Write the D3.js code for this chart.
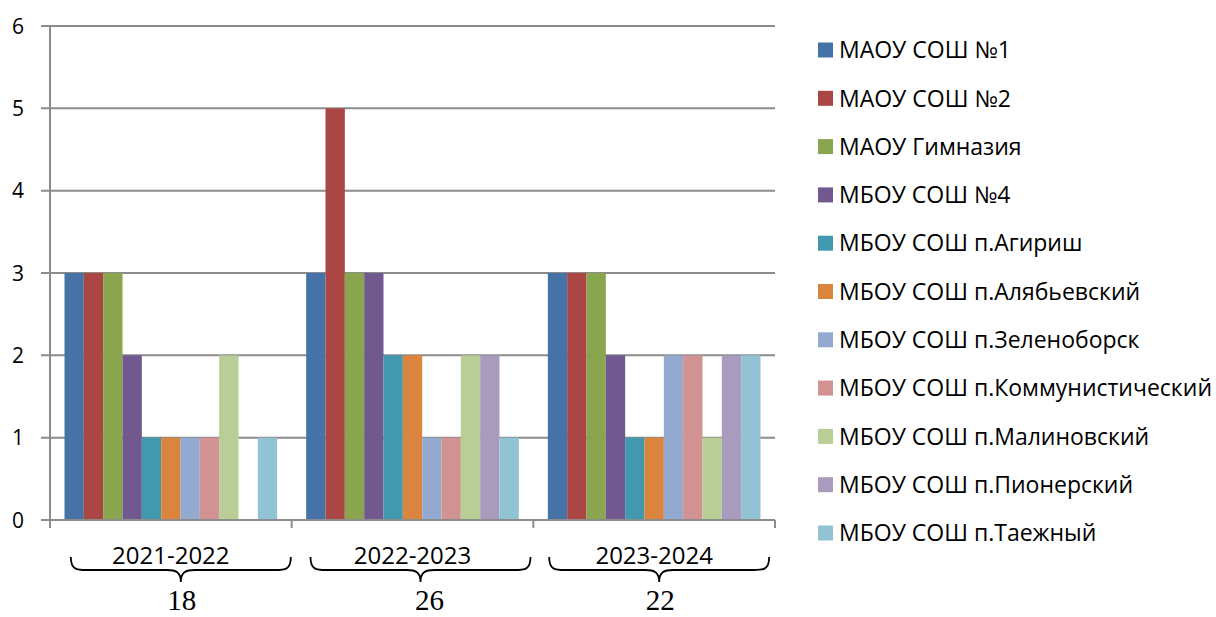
<!DOCTYPE html>
<html><head><meta charset="utf-8">
<script src="https://cdn.jsdelivr.net/npm/d3@7"></script>
<style>body{margin:0;background:#fff;} svg{display:block;}</style>
</head><body>
<svg id="c" width="1216" height="617"></svg>
<script>
const categories = ["2021-2022", "2022-2023", "2023-2024"];
const totals = ["18", "26", "22"];
const seriesNames = [
  "МАОУ СОШ №1", "МАОУ СОШ №2", "МАОУ Гимназия", "МБОУ СОШ №4",
  "МБОУ СОШ п.Агириш", "МБОУ СОШ п.Алябьевский", "МБОУ СОШ п.Зеленоборск",
  "МБОУ СОШ п.Коммунистический", "МБОУ СОШ п.Малиновский",
  "МБОУ СОШ п.Пионерский", "МБОУ СОШ п.Таежный"
];
// values per series, one per category
const v1  = [3, 3, 3];
const v2  = [3, 5, 3];
const v3  = [3, 3, 3];
const v4  = [2, 3, 2];
const v5  = [1, 2, 1];
const v6  = [1, 2, 1];
const v7  = [1, 1, 2];
const v8  = [1, 1, 2];
const v9  = [2, 2, 1];
const v10 = [0, 2, 2];
const v11 = [1, 1, 2];
const seriesValues = [v1, v2, v3, v4, v5, v6, v7, v8, v9, v10, v11];
const colors = ["#4572A7", "#AA4643", "#89A54E", "#71588F", "#4198AF", "#DB843D",
  "#93A9CF", "#D19392", "#B9CD96", "#A99BBD", "#92C3D5"];
const yTicks = [0, 1, 2, 3, 4, 5, 6];

const svg = d3.select("#c");
const mL = 50, mR = 775, mT = 26, mB = 520;
const x0 = d3.scaleBand().domain(categories).range([mL, mR]).paddingInner(0).paddingOuter(0);
const bw = x0.bandwidth();
const pad = bw * 0.75 / 12.5;
const x1 = d3.scaleBand().domain(d3.range(seriesNames.length)).range([pad, bw - pad]).padding(0);
const y = d3.scaleLinear().domain([0, 6]).range([mB, mT]);
const color = d3.scaleOrdinal().domain(d3.range(seriesNames.length)).range(colors);
const gridCol = "#8c8c8c";

// gridlines
svg.append("g").selectAll("line").data(yTicks).join("line")
  .attr("x1", mL - 9).attr("x2", mR)
  .attr("y1", d => y(d)).attr("y2", d => y(d))
  .attr("stroke", gridCol).attr("stroke-width", 2);

// y labels
svg.append("g").selectAll("text").data(yTicks).join("text")
  .attr("x", 24).attr("y", d => y(d)).attr("dy", "0.36em")
  .attr("text-anchor", "end")
  .style("font-family", "'Open Sans'").style("font-size", "21px").attr("fill", "#000")
  .text(d => d);

// bars
const groups = svg.append("g").selectAll("g").data(categories).join("g")
  .attr("transform", c => `translate(${x0(c)},0)`);
groups.selectAll("rect").data((c, ci) => seriesValues.map((vals, si) => ({si, v: vals[ci]})))
  .join("rect")
  .attr("x", d => x1(d.si)).attr("width", x1.bandwidth())
  .attr("y", d => y(d.v)).attr("height", d => y(0) - y(d.v))
  .attr("fill", d => color(d.si));

// axes lines
svg.append("line").attr("x1", mL).attr("x2", mL).attr("y1", mT).attr("y2", mB)
  .attr("stroke", gridCol).attr("stroke-width", 2);
svg.append("line").attr("x1", mL - 9).attr("x2", mR).attr("y1", mB).attr("y2", mB)
  .attr("stroke", gridCol).attr("stroke-width", 2);
const bounds = categories.map(c => x0(c)).concat([mR]);
svg.append("g").selectAll("line").data(bounds).join("line")
  .attr("x1", d => d).attr("x2", d => d).attr("y1", mB).attr("y2", mB + 8)
  .attr("stroke", gridCol).attr("stroke-width", 2);

// category labels
svg.append("g").selectAll("text").data(categories).join("text")
  .attr("x", c => x0(c) + bw / 2).attr("y", 564)
  .attr("text-anchor", "middle")
  .style("font-family", "'Open Sans'").style("font-size", "24px").attr("fill", "#000")
  .text(c => c);

// braces
const braceOffsets = [10, 8, 5];
const braceW = 220;
function bracePath(cx) {
  const L = cx - braceW / 2, R = cx + braceW / 2, t = 557, m = 570, tip = 582;
  return `M${L},${t} C${L},${m} ${L + 6},${m} ${L + 16},${m} L${cx - 14},${m}` +
    ` C${cx - 5},${m} ${cx},${m + 2} ${cx},${tip}` +
    ` C${cx},${m + 2} ${cx + 5},${m} ${cx + 14},${m} L${R - 16},${m}` +
    ` C${R - 6},${m} ${R},${m} ${R},${t}`;
}
svg.append("g").selectAll("path").data(categories).join("path")
  .attr("d", (c, i) => bracePath(x0(c) + bw / 2 + braceOffsets[i]))
  .attr("fill", "none").attr("stroke", "#000").attr("stroke-width", 1.8);

// totals
svg.append("g").selectAll("text").data(totals).join("text")
  .attr("x", (t, i) => x0(categories[i]) + bw / 2 + braceOffsets[i] + (i === 1 ? 9 : 1))
  .attr("y", 610)
  .attr("text-anchor", "middle")
  .style("font-family", "'Liberation Serif'").style("font-size", "29px").attr("fill", "#000")
  .text(t => t);

// legend
const leg = svg.append("g").selectAll("g").data(seriesNames).join("g")
  .attr("transform", (d, i) => `translate(818,${50 + i * 48.3})`);
leg.append("rect").attr("x", 0).attr("y", -7.5).attr("width", 15).attr("height", 15)
  .attr("fill", (d, i) => color(i));
leg.append("text").attr("x", 21).attr("y", 0).attr("dy", "0.36em")
  .style("font-family", "'Open Sans'").style("font-size", "23px").attr("fill", "#000")
  .text(d => d);
</script>
</body></html>
